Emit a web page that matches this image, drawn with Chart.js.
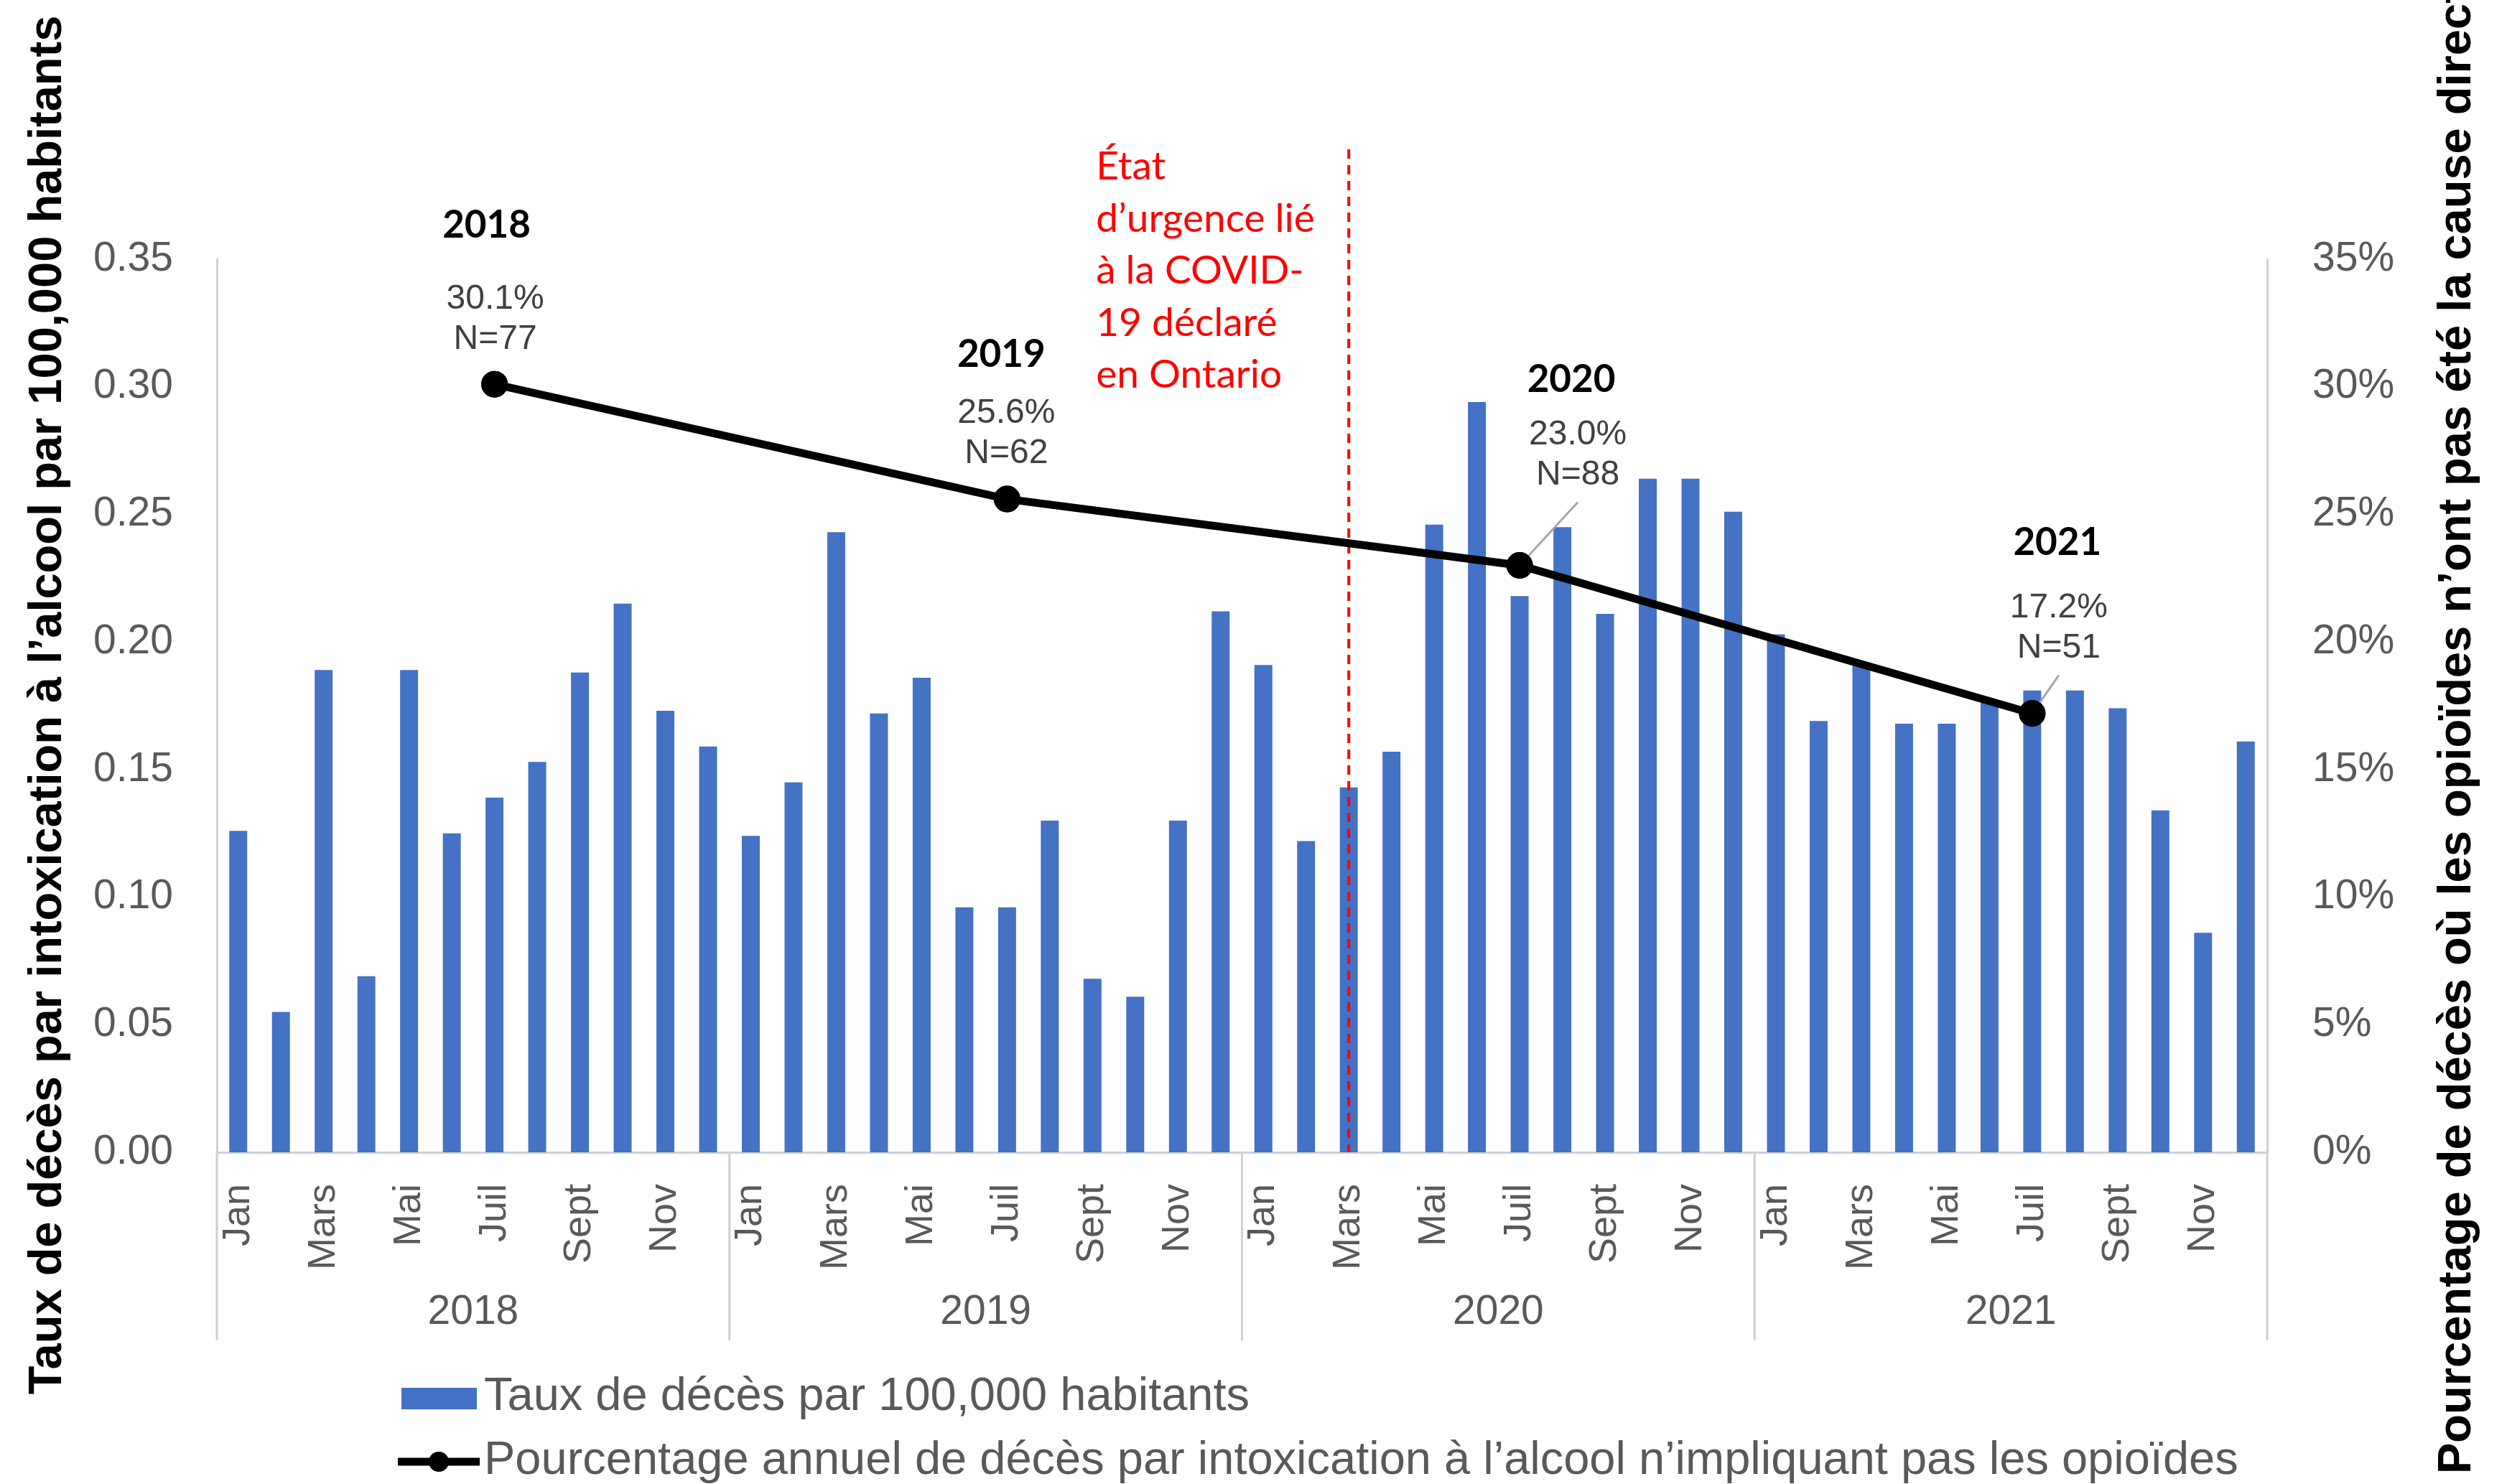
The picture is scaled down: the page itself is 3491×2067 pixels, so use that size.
<!DOCTYPE html>
<html>
<head>
<meta charset="utf-8">
<script src="https://cdn.jsdelivr.net/npm/chart.js@4.4.1/dist/chart.umd.min.js"></script>
<style>
  html, body { margin: 0; padding: 0; background: #fff; }
  canvas { display: block; }
</style>
</head>
<body>
<canvas id="chart" width="3491" height="2067"></canvas>
<script>
// data
const years = ['2018', '2019', '2020', '2021']
const months = ['Jan', 'Févr', 'Mars', 'Avr', 'Mai', 'Juin', 'Juil', 'Août', 'Sept', 'Oct', 'Nov', 'Déc']

// taux mensuel par 100 000 habitants
const monthlyRate = [
  0.126, 0.055, 0.189, 0.069, 0.189, 0.125, 0.139, 0.153, 0.188, 0.215, 0.173, 0.159,
  0.124, 0.145, 0.243, 0.172, 0.186, 0.096, 0.096, 0.130, 0.068, 0.061, 0.130, 0.212,
  0.191, 0.122, 0.143, 0.157, 0.246, 0.294, 0.218, 0.245, 0.211, 0.264, 0.264, 0.251,
  0.203, 0.169, 0.191, 0.168, 0.168, 0.177, 0.181, 0.181, 0.174, 0.134, 0.086, 0.161
]

// pourcentage annuel (place sur juillet de chaque annee)
const yearlyPct = [30.1, 25.6, 23.0, 17.2]
const yearlyN = [77, 62, 88, 51]

const leftTicks = [0, 0.05, 0.10, 0.15, 0.20, 0.25, 0.30, 0.35]
const rightTicks = [0, 5, 10, 15, 20, 25, 30, 35]

const covidMonth = '2020-03'
const covidText = ['État', 'd’urgence lié', 'à la COVID-', '19 déclaré', 'en Ontario']

const leftTitle = 'Taux de décès par intoxication à l’alcool par 100,000 habitants'
const rightTitle = 'Pourcentage de décès où les opioïdes n’ont pas été la cause directe'
const barLegend = 'Taux de décès par 100,000 habitants'
const lineLegend = 'Pourcentage annuel de décès par intoxication à l’alcool n’impliquant pas les opioïdes'

// build category labels + line data
const labels = []
for (const y of years) for (const m of months) labels.push(m)
const julIdx = years.map((y, i) => i * 12 + 6)
const lineData = labels.map(() => null)
julIdx.forEach((idx, i) => { lineData[idx] = yearlyPct[i] })
const covidIdx = years.indexOf(covidMonth.slice(0, 4)) * 12 + Number(covidMonth.slice(5)) - 1

// annotation offsets from each point (pct line center / year label)
const labelOffsets = [
  { dx: 1, dy: -118, ydx: -11, ydy: -221, leader: false },
  { dx: -1, dy: -119, ydx: -8, ydy: -201, leader: false },
  { dx: 81, dy: -182, ydx: 72, ydy: -259, leader: true },
  { dx: 37, dy: -147, ydx: 35, ydy: -238, leader: true }
]

const ARIAL = "'Liberation Sans', Arial, sans-serif"
const CALIBRI = "Lato, Carlito, Calibri, sans-serif"
const GREY = '#595959'
const AXIS = '#d0d0d0'

const overlay = {
  id: 'overlay',
  afterDatasetDraw(chart, args) {
    if (args.meta.type !== 'bar') return
    const ctx = chart.ctx
    const x = chart.scales.x
    const area = chart.chartArea
    const cx = x.getPixelForValue(covidIdx)
    ctx.save()
    ctx.strokeStyle = '#ff0000'
    ctx.lineWidth = 4
    ctx.setLineDash([13, 9])
    ctx.beginPath()
    ctx.moveTo(cx, area.top - 153)
    ctx.lineTo(cx, area.bottom)
    ctx.stroke()
    ctx.restore()
  },
  afterDraw(chart) {
    const ctx = chart.ctx
    const x = chart.scales.x
    const area = chart.chartArea
    ctx.save()

    // covid note
    const cx = x.getPixelForValue(covidIdx)
    ctx.fillStyle = '#ff0000'
    ctx.font = `55px ${CALIBRI}`
    ctx.textAlign = 'left'
    ctx.textBaseline = 'alphabetic'
    covidText.forEach((t, i) => ctx.fillText(t, cx - 352, area.top - 111 + i * 72.5))

    // point labels
    const meta = chart.getDatasetMeta(1)
    julIdx.forEach((idx, i) => {
      const p = meta.data[idx]
      const o = labelOffsets[i]
      const lx = p.x + o.dx
      const ly = p.y + o.dy
      if (o.leader) {
        ctx.strokeStyle = '#a6a6a6'
        ctx.lineWidth = 3
        ctx.beginPath()
        ctx.moveTo(p.x, p.y)
        ctx.lineTo(lx, ly + 55 + 39)
        ctx.stroke()
      }
      ctx.textAlign = 'center'
      ctx.textBaseline = 'middle'
      ctx.fillStyle = '#000'
      ctx.font = `bold 53px ${CALIBRI}`
      ctx.fillText(years[i], p.x + o.ydx, p.y + o.ydy)
      ctx.fillStyle = '#404040'
      ctx.font = `48px ${ARIAL}`
      ctx.fillText(yearlyPct[i].toFixed(1) + '%', lx, ly)
      ctx.fillText('N=' + yearlyN[i], lx, ly + 56)
    })
    // redraw the marker over leader lines
    julIdx.forEach((idx) => meta.data[idx].draw(ctx))

    // year groups under axis
    const sepBottom = area.bottom + 262
    ctx.strokeStyle = AXIS
    ctx.lineWidth = 3
    ctx.fillStyle = GREY
    ctx.font = `57px ${ARIAL}`
    ctx.textAlign = 'center'
    ctx.textBaseline = 'middle'
    years.forEach((y, k) => {
      const l = k === 0 ? area.left : (x.getPixelForValue(12 * k - 1) + x.getPixelForValue(12 * k)) / 2
      const r = k === years.length - 1 ? area.right : (x.getPixelForValue(12 * k + 11) + x.getPixelForValue(12 * k + 12)) / 2
      ctx.beginPath()
      ctx.moveTo(l, area.bottom)
      ctx.lineTo(l, sepBottom)
      ctx.stroke()
      if (k === years.length - 1) {
        ctx.beginPath()
        ctx.moveTo(r, area.bottom)
        ctx.lineTo(r, sepBottom)
        ctx.stroke()
      }
      ctx.fillText(y, (l + r) / 2, area.bottom + 223)
    })

    // axis titles
    ctx.fillStyle = '#000'
    ctx.font = `bold 65px ${ARIAL}`
    ctx.save()
    ctx.translate(67, (area.top + area.bottom) / 2 - 1)
    ctx.rotate(-Math.PI / 2)
    ctx.textAlign = 'center'
    ctx.fillText(leftTitle, 0, 0)
    ctx.restore()
    ctx.save()
    ctx.translate(3422, 2053)
    ctx.rotate(-Math.PI / 2)
    ctx.textAlign = 'left'
    ctx.fillText(rightTitle, 0, 0)
    ctx.restore()

    // legend
    const ds = chart.data.datasets
    ctx.font = `65px ${ARIAL}`
    ctx.fillStyle = ds[0].backgroundColor
    ctx.fillRect(559, 1933, 105, 30)
    ctx.strokeStyle = ds[1].borderColor
    ctx.lineWidth = 11
    ctx.beginPath()
    ctx.moveTo(554, 2036)
    ctx.lineTo(668, 2036)
    ctx.stroke()
    ctx.fillStyle = ds[1].borderColor
    ctx.beginPath()
    ctx.arc(611, 2036, 14, 0, Math.PI * 2)
    ctx.fill()
    ctx.fillStyle = GREY
    ctx.textAlign = 'left'
    ctx.textBaseline = 'alphabetic'
    ctx.fillText(barLegend, 674, 1964)
    ctx.fillText(lineLegend, 674, 2053)

    ctx.restore()
  }
}

new Chart(document.getElementById('chart'), {
  data: {
    labels,
    datasets: [
      {
        type: 'bar',
        label: barLegend,
        data: monthlyRate,
        backgroundColor: '#4472c4',
        barPercentage: 0.42,
        categoryPercentage: 1,
        yAxisID: 'y',
        order: 1
      },
      {
        type: 'line',
        label: lineLegend,
        data: lineData,
        borderColor: '#000000',
        backgroundColor: '#000000',
        borderWidth: 11,
        pointRadius: 13,
        pointHoverRadius: 13,
        spanGaps: true,
        tension: 0,
        yAxisID: 'y2',
        order: 0
      }
    ]
  },
  options: {
    responsive: false,
    devicePixelRatio: 1,
    animation: false,
    layout: { padding: { top: 361, left: 0, right: 0, bottom: 0 } },
    plugins: {
      legend: { display: false },
      tooltip: { enabled: false }
    },
    scales: {
      x: {
        grid: { display: false },
        border: { display: true, color: AXIS, width: 3 },
        ticks: {
          autoSkip: false,
          maxRotation: 90,
          minRotation: 90,
          padding: 36,
          color: GREY,
          font: { family: ARIAL, size: 54 },
          callback: (v, i) => (i % 2 === 0 ? labels[i] : '')
        },
        afterFit: (s) => { s.height = 2067 - 1605 }
      },
      y: {
        position: 'left',
        min: 0,
        max: 0.35,
        grid: { display: false },
        border: { display: true, color: AXIS, width: 3 },
        afterBuildTicks: (s) => { s.ticks = leftTicks.map((v) => ({ value: v })) },
        ticks: {
          padding: 53,
          color: GREY,
          font: { family: ARIAL, size: 57 },
          callback: (v) => v.toFixed(2)
        },
        afterFit: (s) => { s.width = 302 }
      },
      y2: {
        position: 'right',
        min: 0,
        max: 35,
        grid: { display: false },
        border: { display: true, color: AXIS, width: 3 },
        afterBuildTicks: (s) => { s.ticks = rightTicks.map((v) => ({ value: v })) },
        ticks: {
          padding: 55,
          color: GREY,
          font: { family: ARIAL, size: 57 },
          callback: (v) => v + '%'
        },
        afterFit: (s) => { s.width = 3491 - 3157 }
      }
    }
  },
  plugins: [overlay]
})
</script>
</body>
</html>
